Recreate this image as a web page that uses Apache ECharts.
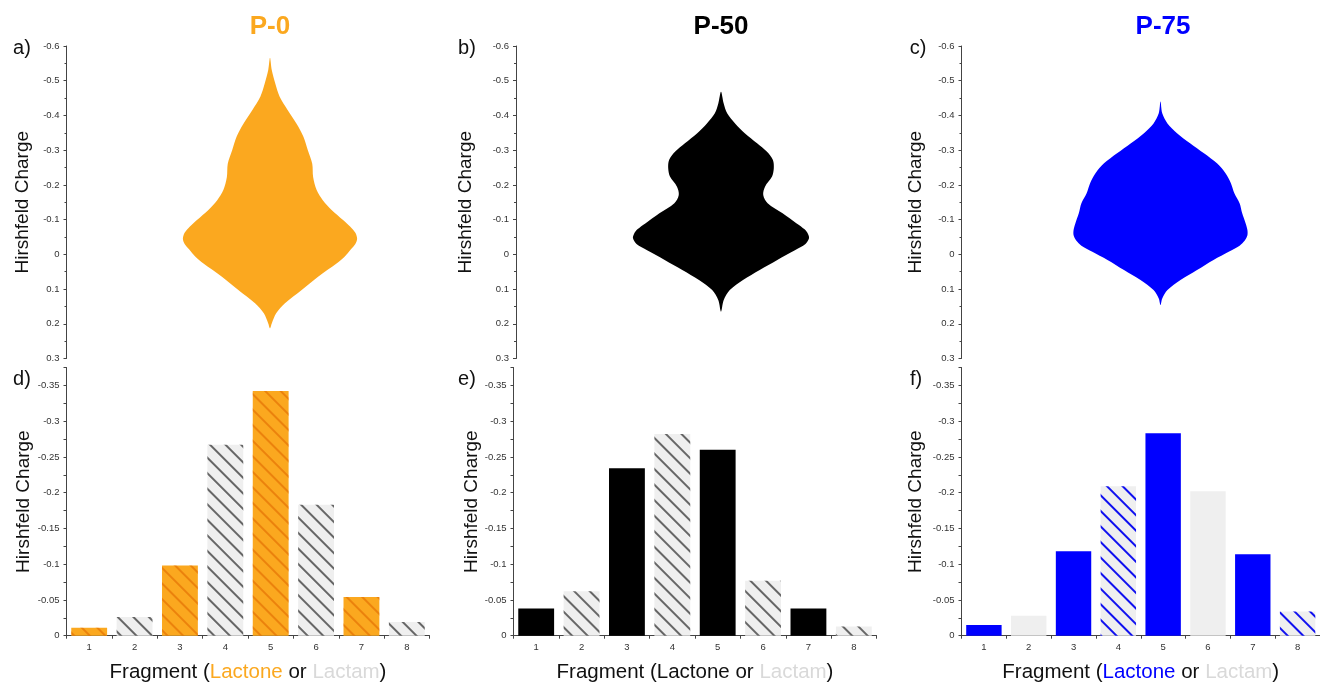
<!DOCTYPE html>
<html>
<head>
<meta charset="utf-8">
<script src="https://cdn.jsdelivr.net/npm/echarts@6/dist/echarts.min.js"></script>
<style>
  html, body { margin: 0; padding: 0; background: #fff; }
  #main { width: 1320px; height: 684px; }
</style>
</head>
<body>
<div id="main"></div>
<script>
// violin outlines: charge level and relative half width (density)
var p0Charge = [-0.566, -0.531, -0.492, -0.454, -0.416, -0.377, -0.339, -0.300, -0.261, -0.223, -0.185, -0.156, -0.128, -0.099, -0.080, -0.062, -0.045, -0.030, -0.015, 0.006, 0.026, 0.064, 0.103, 0.141, 0.170, 0.199, 0.213]
var p0Width = [0, 0.02, 0.06, 0.11, 0.20, 0.30, 0.38, 0.43, 0.48, 0.49, 0.53, 0.60, 0.70, 0.83, 0.91, 0.97, 0.99, 0.97, 0.92, 0.85, 0.76, 0.55, 0.36, 0.17, 0.07, 0.02, 0]

var p50Charge = [-0.468, -0.435, -0.406, -0.377, -0.349, -0.320, -0.296, -0.272, -0.248, -0.224, -0.195, -0.171, -0.147, -0.118, -0.089, -0.072, -0.058, -0.046, -0.030, -0.012, 0.016, 0.045, 0.074, 0.103, 0.132, 0.165]
var p50Width = [0, 0.03, 0.07, 0.16, 0.27, 0.41, 0.52, 0.59, 0.60, 0.58, 0.50, 0.48, 0.53, 0.70, 0.86, 0.95, 0.99, 1.00, 0.96, 0.84, 0.64, 0.44, 0.25, 0.10, 0.03, 0]

var p75Charge = [-0.440, -0.406, -0.377, -0.349, -0.320, -0.291, -0.262, -0.233, -0.205, -0.176, -0.147, -0.118, -0.089, -0.070, -0.055, -0.040, -0.025, -0.008, 0.016, 0.045, 0.074, 0.103, 0.127, 0.146]
var p75Width = [0, 0.02, 0.08, 0.19, 0.34, 0.50, 0.65, 0.75, 0.81, 0.85, 0.91, 0.94, 0.98, 1.00, 1.00, 0.97, 0.91, 0.79, 0.61, 0.42, 0.23, 0.08, 0.02, 0]

// fragment charges (bars)
var fragments = ['1', '2', '3', '4', '5', '6', '7', '8']
var fragmentType = ['Lactone', 'Lactam', 'Lactone', 'Lactam', 'Lactone', 'Lactam', 'Lactone', 'Lactam']
var p0Bars = [-0.011, -0.026, -0.098, -0.267, -0.342, -0.183, -0.054, -0.019]
var p50Bars = [-0.038, -0.062, -0.234, -0.282, -0.260, -0.077, -0.038, -0.013]
var p75Bars = [-0.015, -0.028, -0.118, -0.209, -0.283, -0.202, -0.114, -0.034]

var panels = [
  { title: 'P-0', letters: ['a)', 'd)'], color: '#FBA81F', charge: p0Charge, width: p0Width, bars: p0Bars,
    hatch: [1, 1, 1, 1, 1, 1, 1, 1], hatchLactone: 'rgba(225,105,0,0.6)', hatchLactam: '#666' },
  { title: 'P-50', letters: ['b)', 'e)'], color: '#000000', charge: p50Charge, width: p50Width, bars: p50Bars,
    hatch: [0, 1, 0, 1, 0, 1, 0, 1], hatchLactone: '#000', hatchLactam: '#666' },
  { title: 'P-75', letters: ['c)', 'f)'], color: '#0000FF', charge: p75Charge, width: p75Width, bars: p75Bars,
    hatch: [0, 0, 0, 1, 0, 0, 0, 1], hatchLactone: '#0000FF', hatchLactam: '#1010F0' }
]

// layout
var topLeft = [66.5, 516, 961.5]
var botLeft = [66.5, 513.5, 961.5]
var violinCenter = [270, 721, 1163]
var plotW = 363
var pxPerWidth = 88
var yNameGapTop = [34, 40.5, 36]
var yNameGapBot = [33.5, 32, 36]
var lactamGray = '#EFEFEF'
var axisColor = '#444'
var labelColor = '#333'
var font = 'Liberation Sans, Arial, sans-serif'

function hatchDecal(color) {
  return {
    symbol: 'rect',
    symbolSize: 1,
    dashArrayX: [1, 0],
    dashArrayY: [1.4, 8.6],
    rotation: Math.PI / 4,
    color: color
  }
}

function violinSeries(k) {
  var p = panels[k]
  return {
    type: 'custom',
    xAxisIndex: k,
    yAxisIndex: k,
    silent: true,
    data: p.charge.map(function (c, i) { return [p.width[i], c] }),
    renderItem: function (params, api) {
      if (params.dataIndex !== 0) return
      var pts = []
      for (var i = 0; i < p.charge.length; i++) {
        pts.push(api.coord([p.width[i], p.charge[i]]))
      }
      for (var j = p.charge.length - 2; j > 0; j--) {
        pts.push(api.coord([-p.width[j], p.charge[j]]))
      }
      return {
        type: 'polygon',
        shape: { points: pts, smooth: 0.3 },
        style: { fill: p.color, stroke: null }
      }
    }
  }
}

function barSeries(k) {
  var p = panels[k]
  return {
    type: 'bar',
    xAxisIndex: 3 + k,
    yAxisIndex: 3 + k,
    barCategoryGap: '21%',
    silent: true,
    data: p.bars.map(function (v, i) {
      var lactone = fragmentType[i] === 'Lactone'
      var style = { color: lactone ? p.color : lactamGray }
      if (p.hatch[i]) style.decal = hatchDecal(lactone ? p.hatchLactone : p.hatchLactam)
      return { value: v, itemStyle: style }
    })
  }
}

var grids = [], xAxes = [], yAxes = [], series = [], graphics = []
var baseLabel = { fontFamily: font, fontSize: 9.5, color: labelColor }

for (var k = 0; k < 3; k++) {
  var off = violinCenter[k] - topLeft[k]
  grids.push({ left: topLeft[k], top: 46, width: plotW, height: 312.5 })
  xAxes.push({ type: 'value', gridIndex: k, show: false, min: -off / pxPerWidth, max: (plotW - off) / pxPerWidth })
  yAxes.push({
    type: 'value', gridIndex: k, inverse: true, min: -0.6, max: 0.3, interval: 0.1,
    name: 'Hirshfeld Charge', nameLocation: 'middle', nameGap: yNameGapTop[k],
    nameTextStyle: { fontFamily: font, fontSize: 19, color: '#111' },
    axisLine: { show: true, onZero: false, lineStyle: { color: axisColor, width: 1 } },
    axisTick: { show: true, length: 3, lineStyle: { color: axisColor } },
    minorTick: { show: true, splitNumber: 2, length: 2, lineStyle: { color: axisColor } },
    splitLine: { show: false },
    axisLabel: Object.assign({ margin: 7 }, baseLabel)
  })
  series.push(violinSeries(k))
}

for (var k = 0; k < 3; k++) {
  var p = panels[k]
  grids.push({ left: botLeft[k], top: 367.5, width: plotW, height: 268.2 })
  xAxes.push({
    type: 'category', gridIndex: 3 + k, data: fragments,
    name: '{a|Fragment (}{b|Lactone}{a| or }{c|Lactam}{a|)}',
    nameLocation: 'middle', nameGap: 26,
    nameTextStyle: {
      fontFamily: font, fontSize: 20.5,
      rich: {
        a: { fontFamily: font, fontSize: 20.5, color: '#111' },
        b: { fontFamily: font, fontSize: 20.5, color: p.color === '#000000' ? '#111' : p.color },
        c: { fontFamily: font, fontSize: 20.5, color: '#D9D9D9' }
      }
    },
    axisLine: { show: true, onZero: false, lineStyle: { color: axisColor, width: 1 } },
    axisTick: { show: true, length: 3, lineStyle: { color: axisColor } },
    axisLabel: Object.assign({ margin: 7 }, baseLabel)
  })
  yAxes.push({
    type: 'value', gridIndex: 3 + k, inverse: true, min: -0.375, max: 0, interval: 0.025,
    name: 'Hirshfeld Charge', nameLocation: 'middle', nameGap: yNameGapBot[k],
    nameTextStyle: { fontFamily: font, fontSize: 19, color: '#111' },
    axisLine: { show: true, onZero: false, lineStyle: { color: axisColor, width: 1 } },
    axisTick: { show: true, length: 3, lineStyle: { color: axisColor } },
    splitLine: { show: false },
    axisLabel: Object.assign({
      margin: 7,
      formatter: function (v) {
        return Math.round(v * 1000) % 50 === 0 ? String(+v.toFixed(3)) : ''
      }
    }, baseLabel)
  })
  series.push(barSeries(k))

  graphics.push({
    type: 'text', x: violinCenter[k], y: 27,
    style: { text: p.title, fill: p.color, font: 'bold 26px "Liberation Sans", Arial, sans-serif', textAlign: 'center', textVerticalAlign: 'middle' }
  })
}

var letterX = [22, 467, 918]
for (var k = 0; k < 3; k++) {
  graphics.push({
    type: 'text', x: letterX[k], y: 48,
    style: { text: panels[k].letters[0], fill: '#111', font: '20px "Liberation Sans", Arial, sans-serif', textAlign: 'center', textVerticalAlign: 'middle' }
  })
  graphics.push({
    type: 'text', x: letterX[k] - (k === 2 ? 2 : 0), y: 379,
    style: { text: panels[k].letters[1], fill: '#111', font: '20px "Liberation Sans", Arial, sans-serif', textAlign: 'center', textVerticalAlign: 'middle' }
  })
}

var chart = echarts.init(document.getElementById('main'), null, { renderer: 'canvas', devicePixelRatio: 1 })
chart.setOption({
  backgroundColor: '#ffffff',
  animation: false,
  grid: grids,
  xAxis: xAxes,
  yAxis: yAxes,
  series: series,
  graphic: graphics
})
</script>
</body>
</html>
